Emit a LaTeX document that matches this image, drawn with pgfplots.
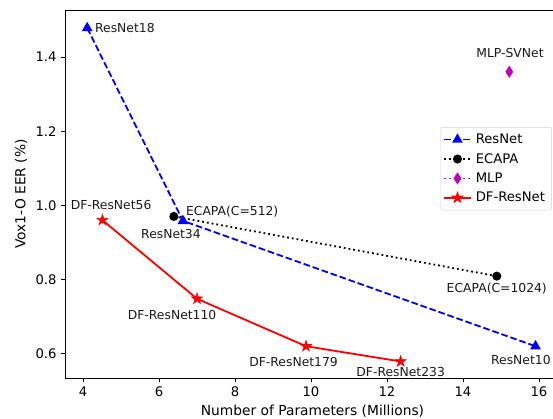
\documentclass[border=0pt]{standalone}
\usepackage{pgfplots}
\pgfplotsset{compat=1.18}
\usepackage{fontspec}
\setmainfont{DejaVu Sans}
\definecolor{mplm}{rgb}{0.75,0,0.75}
\pgfdeclareplotmark{fstar}{%
  \pgfpathmoveto{\pgfpoint{0pt}{\pgfplotmarksize}}%
  \pgfpathlineto{\pgfpoint{-0.2239\pgfplotmarksize}{0.3082\pgfplotmarksize}}%
  \pgfpathlineto{\pgfpoint{-0.9511\pgfplotmarksize}{0.3090\pgfplotmarksize}}%
  \pgfpathlineto{\pgfpoint{-0.3624\pgfplotmarksize}{-0.1177\pgfplotmarksize}}%
  \pgfpathlineto{\pgfpoint{-0.5878\pgfplotmarksize}{-0.8090\pgfplotmarksize}}%
  \pgfpathlineto{\pgfpoint{0pt}{-0.381\pgfplotmarksize}}%
  \pgfpathlineto{\pgfpoint{0.5878\pgfplotmarksize}{-0.8090\pgfplotmarksize}}%
  \pgfpathlineto{\pgfpoint{0.3624\pgfplotmarksize}{-0.1177\pgfplotmarksize}}%
  \pgfpathlineto{\pgfpoint{0.9511\pgfplotmarksize}{0.3090\pgfplotmarksize}}%
  \pgfpathlineto{\pgfpoint{0.2239\pgfplotmarksize}{0.3082\pgfplotmarksize}}%
  \pgfpathclose
  \pgfusepathqfillstroke
}
\begin{document}
\begin{tikzpicture}
\begin{axis}[
  at={(0,0)}, anchor=south west,
  scale only axis,
  width=412.5pt, height=306.7pt,
  xmin=3.526, xmax=16.553,
  ymin=0.5345, ymax=1.5267,
  xtick={4,6,8,10,12,14,16},
  ytick={0.6,0.8,1.0,1.2,1.4},
  yticklabel style={/pgf/number format/.cd,fixed,fixed zerofill,precision=1},
  /pgf/number format/assume math mode=true,
  tick label style={font=\fontsize{11}{13}\selectfont},
  tick align=outside,
  xtick pos=bottom, ytick pos=left,
  major tick length=3.5pt,
  tick style={black, line width=0.67pt},
  axis line style={black, line width=0.67pt},
  xlabel={Number of Parameters (Millions)},
  ylabel={Vox1-O EER (\%)},
  label style={font=\fontsize{11.5}{13}\selectfont},
  xlabel style={at={(axis description cs:0.5,0)}, anchor=center, yshift=-28pt},
  ylabel style={at={(axis description cs:0,0.5)}, anchor=center, yshift=36.7pt},
  legend style={at={(axis cs:16.34,1.211)}, anchor=north east,
    font=\fontsize{11}{13}\selectfont, draw=gray!35, rounded corners=2pt,
    fill=white, row sep=2.6pt, inner xsep=2pt, inner ysep=3.5pt,
    nodes={inner xsep=3.5pt}},
  legend image code/.code={%
    \draw[mark repeat=2,mark phase=2] plot coordinates {(0pt,0pt) (11pt,0pt) (22pt,0pt)};},
  legend cell align=left,
  clip=false,
]
\addplot[blue, line width=1.5pt, dash pattern=on 5.55pt off 2.4pt, mark=triangle*, mark size=3.7pt, mark options={solid}]
  coordinates {(4.11,1.478) (6.63,0.958) (15.91,0.620)};
\addlegendentry{ResNet}
\addplot[black, line width=1.5pt, dash pattern=on 1.5pt off 2.5pt, mark=*, mark size=3pt, mark options={solid}]
  coordinates {(6.39,0.970) (14.89,0.809)};
\addlegendentry{ECAPA}
\addplot[mplm, line width=1.5pt, dash pattern=on 1.5pt off 2.5pt, mark=diamond*, mark size=4.6pt, mark options={solid, xscale=0.85, line width=0.5pt}]
  coordinates {(15.22,1.360)};
\addlegendentry{MLP}
\addplot[red, line width=1.5pt, mark=fstar, mark size=4.8pt, mark options={solid, fill=red, line width=0.5pt}]
  coordinates {(4.51,0.960) (7.00,0.748) (9.87,0.620) (12.36,0.579)};
\addlegendentry{DF-ResNet}

\begin{scope}[every node/.style={font=\fontsize{10.3}{12}\selectfont, inner sep=0pt, text=black!90}]
\node[anchor=west, xshift=6.4pt] at (axis cs:4.11,1.478) {ResNet18};
\node[xshift=-10pt, yshift=-10.8pt] at (axis cs:6.63,0.958) {ResNet34};
\node[anchor=west, xshift=10pt, yshift=4.3pt] at (axis cs:6.39,0.970) {ECAPA(C=512)};
\node[xshift=7.25pt, yshift=12.5pt] at (axis cs:4.51,0.960) {DF-ResNet56};
\node[xshift=-20.8pt, yshift=-13.3pt] at (axis cs:7.00,0.748) {DF-ResNet110};
\node[xshift=-10.4pt, yshift=-13pt] at (axis cs:9.87,0.620) {DF-ResNet179};
\node[yshift=-8.8pt] at (axis cs:12.36,0.579) {DF-ResNet233};
\node[yshift=-10.6pt] at (axis cs:14.89,0.809) {ECAPA(C=1024)};
\node[xshift=-12.2pt, yshift=-11.7pt] at (axis cs:15.91,0.620) {ResNet10};
\node[xshift=0.6pt, yshift=15.6pt] at (axis cs:15.22,1.360) {MLP-SVNet};
\end{scope}
\end{axis}
\pgfresetboundingbox
\path[use as bounding box] (-54.2pt,-34.2pt) rectangle (406.7pt,315pt);
\end{tikzpicture}
\end{document}
